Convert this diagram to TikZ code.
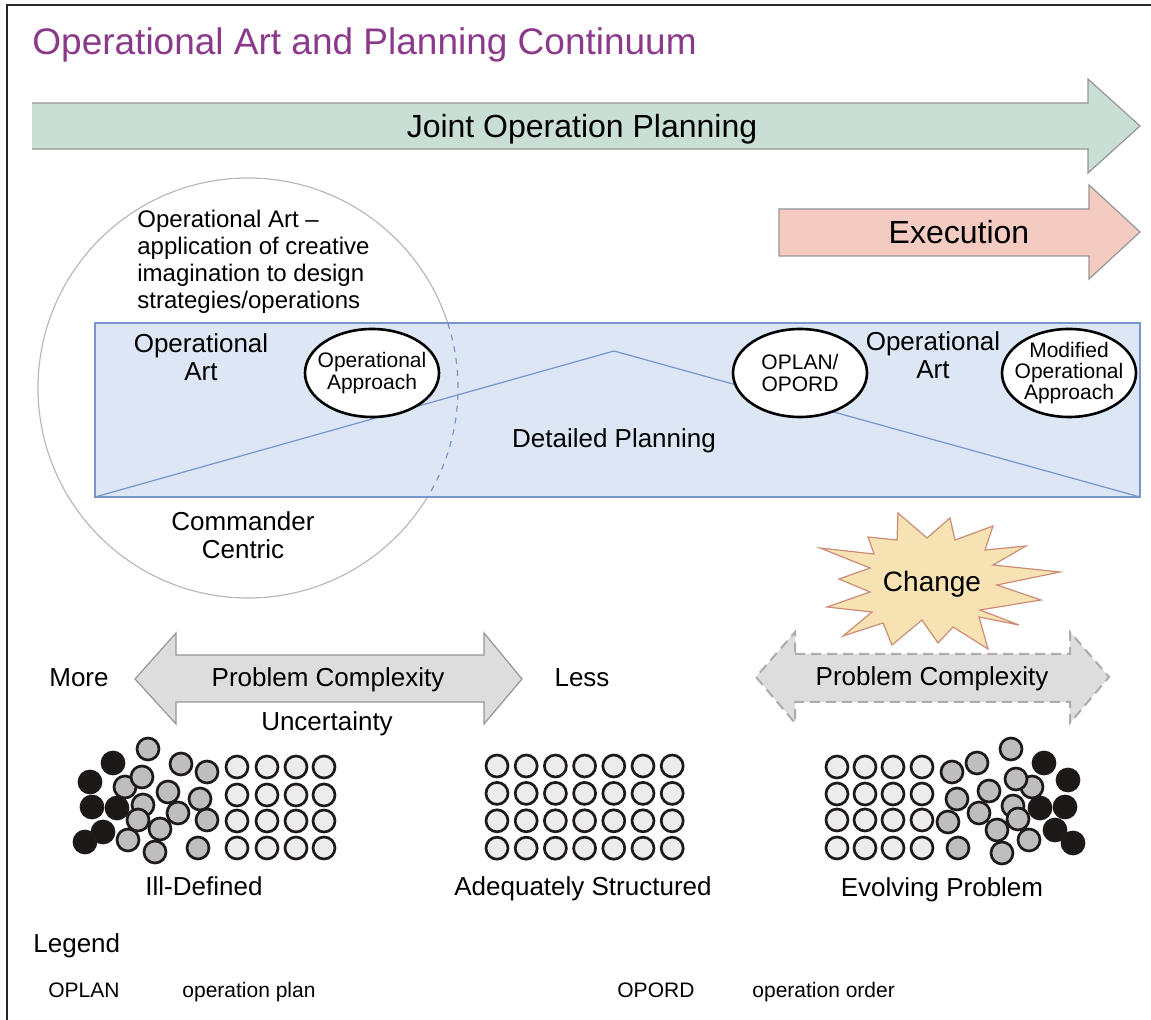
\documentclass[tikz,border=0pt]{standalone}
\usepackage{fontspec}
\setmainfont{Liberation Sans}
\usetikzlibrary{positioning,shapes.geometric}

\definecolor{titlepurple}{RGB}{139,58,139}
\definecolor{jopfill}{RGB}{201,222,212}
\definecolor{exefill}{RGB}{243,203,193}
\definecolor{arrowline}{RGB}{150,150,150}
\definecolor{planfill}{RGB}{220,230,244}
\definecolor{planline}{RGB}{120,150,205}
\definecolor{changefill}{RGB}{246,226,178}
\definecolor{changeline}{RGB}{205,140,120}
\definecolor{cxfill}{RGB}{221,221,221}
\definecolor{dotline}{RGB}{30,26,26}
\definecolor{dotlight}{RGB}{236,236,236}
\definecolor{dotgray}{RGB}{190,190,190}
\definecolor{dotdark}{RGB}{28,24,24}

\begin{document}
\begin{tikzpicture}[x=0.5pt,y=-0.5pt,
    every node/.style={inner sep=0pt},
    txt/.style={font=\fontsize{13}{14}\selectfont,align=center},
    big txt/.style={font=\fontsize{16}{18}\selectfont},
    small txt/.style={font=\fontsize{10.5}{11}\selectfont},
    oval/.style={ellipse,draw=black,line width=1.3pt,fill=white,inner xsep=-4pt,inner ysep=0pt,minimum width=67pt,minimum height=44pt,font=\fontsize{10.5}{11}\selectfont,align=center},
    arrowbox/.style={draw=arrowline,line width=0.6pt},
    dot/.style={circle,draw=dotline,line width=1.35pt,minimum size=11pt},
    light dot/.style={dot,fill=dotlight},
    gray dot/.style={dot,fill=dotgray},
    dark dot/.style={dot,fill=dotdark}]
    \useasboundingbox (0,0) rectangle (1151,1020);
    \draw[line width=1pt,black!85] (7,1030) -- (7,5) -- (1160,5);

    \node[anchor=base west,text=titlepurple,font=\fontsize{18.5}{22}\selectfont] (title) at (32,55) {Operational Art and Planning Continuum};

    % planning and execution arrows
    \fill[jopfill] (32,103) -- (1088,103) -- (1088,79) -- (1140,126) -- (1088,173) -- (1088,149) -- (32,149) -- cycle;
    \draw[arrowbox] (32,103) -- (1088,103) -- (1088,79) -- (1140,126) -- (1088,173) -- (1088,149) -- (32,149);
    \node[big txt,anchor=base] (jop) at (582,138) {Joint Operation Planning};
    \draw[arrowbox,fill=exefill] (779,209) -- (1089,209) -- (1089,185) -- (1140,232) -- (1089,279) -- (1089,256) -- (779,256) -- cycle;
    \node[big txt,anchor=base] (exe) at (959,244) {Execution};

    % operational art circle and planning box
    \draw[gray!55,line width=0.6pt] (248,388) circle[radius=105pt];
    \draw[planline,fill=planfill,line width=0.6pt] (95,323) rectangle (1140,497);
    \begin{scope}
        \clip (95,323) rectangle (1140,497);
        \draw[planline,dashed,line width=0.6pt] (248,388) circle[radius=105pt];
    \end{scope}
    \coordinate (low left) at (95,497);
    \coordinate (peak) at (614,351);
    \coordinate (low right) at (1140,497);
    \draw[planline,line width=0.6pt] (low left) -- (peak) -- (low right);

    \node[anchor=west,align=left,font=\fontsize{12}{13.5}\selectfont] (artdef) at (137,262) {Operational Art --\\application of creative\\imagination to design\\strategies/operations};
    \node[txt] (artleft) at (201,357) {Operational\\Art};
    \node[txt] (artright) at (933,355) {Operational\\Art};
    \node[txt,anchor=base] (detailed) at (614,448) {Detailed Planning};
    \node[txt] (commander) at (243,535) {Commander\\Centric};

    \node[oval] (approach) at (372,373) {Operational\\Approach};
    \node[oval] (oplan) at (800,373) {OPLAN/\\OPORD};
    \node[oval,font=\fontsize{10.5}{10.6}\selectfont] (modified) at (1069,373) {Modified\\Operational\\Approach};

    % change burst
    \draw[changeline,fill=changefill,line width=0.6pt]
        (898,513) -- (927,538) -- (950,518) -- (955,540) -- (993,526) -- (985,550)
        -- (1026,546) -- (993,565) -- (1060,572) -- (997,585) -- (1041,600) -- (980,610)
        -- (1019,625) -- (979,617) -- (988,649) -- (953,627) -- (938,643) -- (922,620)
        -- (892,645) -- (883,623) -- (843,636) -- (872,612) -- (827,607) -- (870,592)
        -- (839,579) -- (870,568) -- (820,548) -- (874,554) -- (868,537) -- (897,540) -- cycle;
    \node[anchor=base,font=\fontsize{14}{16}\selectfont] (change) at (932,592) {Change};

    % problem complexity arrows
    \draw[arrowbox,fill=cxfill] (176,655) -- (484,655) -- (484,633) -- (522,679) -- (484,724) -- (484,702)
        -- (176,702) -- (176,724) -- (135,679) -- (176,633) -- cycle;
    \node[txt,anchor=base] (cxleft) at (328,687) {Problem Complexity};
    \node[txt,anchor=base] (more) at (79,687) {More};
    \node[txt,anchor=base] (less) at (582,687) {Less};
    \node[txt,anchor=base] (uncert) at (327,731) {Uncertainty};
    \draw[gray!65,fill=cxfill,line width=1pt,dash pattern=on 5pt off 3pt] (795,654) -- (1070,654) -- (1070,632) -- (1109,677)
        -- (1070,723) -- (1070,702) -- (795,702) -- (795,723) -- (756,677) -- (795,632) -- cycle;
    \node[txt,anchor=base] (cxright) at (932,686) {Problem Complexity};

    % ill-defined problem
    \foreach \x [count=\c] in {237,267,296,324}
        \foreach \y [count=\r] in {767,795,821,848}
            \node[light dot] (ill-\c-\r) at (\x,\y) {};
    \foreach \x/\y [count=\i] in {113/763,90/782,92/807,117/808,103/832,85/842}
        \node[dark dot] (ill-d\i) at (\x,\y) {};
    \foreach \x/\y [count=\i] in {148/749,181/764,207/772,125/787,142/777,168/792,200/799,143/805,
            178/813,207/820,138/820,160/829,128/840,155/852,198/848}
        \node[gray dot] (ill-g\i) at (\x,\y) {};
    \node[txt,anchor=base] (illdef) at (204,895) {Ill-Defined};

    % adequately structured problem
    \foreach \c in {0,...,6}
        \foreach \r in {0,...,3}
            \node[light dot] (adq-\c-\r) at ({497+29.2*\c},{766+27.4*\r}) {};
    \node[txt,anchor=base] (adequate) at (583,895) {Adequately Structured};

    % evolving problem
    \foreach \x [count=\c] in {837,865,893,922}
        \foreach \y [count=\r] in {767,794,820,848}
            \node[light dot] (evo-\c-\r) at (\x,\y) {};
    \foreach \x/\y [count=\i] in {1044/763,1068/780,1040/808,1065/807,1055/830,1073/843}
        \node[dark dot] (evo-d\i) at (\x,\y) {};
    \foreach \x/\y [count=\i] in {1011/749,977/763,952/772,1032/787,1016/779,989/791,957/799,1013/806,
            979/813,1018/819,948/822,997/830,1029/840,958/848,1002/853}
        \node[gray dot] (evo-g\i) at (\x,\y) {};
    \node[txt,anchor=base] (evolving) at (942,896) {Evolving Problem};

    % legend
    \node[txt,anchor=base west] (legend) at (33,952) {Legend};
    \node[small txt,anchor=base west] (oplanabbr) at (48,997) {OPLAN};
    \node[small txt,anchor=base west] (oplantext) at (182,997) {operation plan};
    \node[small txt,anchor=base west] (opordabbr) at (617,997) {OPORD};
    \node[small txt,anchor=base west] (opordtext) at (752,997) {operation order};
\end{tikzpicture}
\end{document}
